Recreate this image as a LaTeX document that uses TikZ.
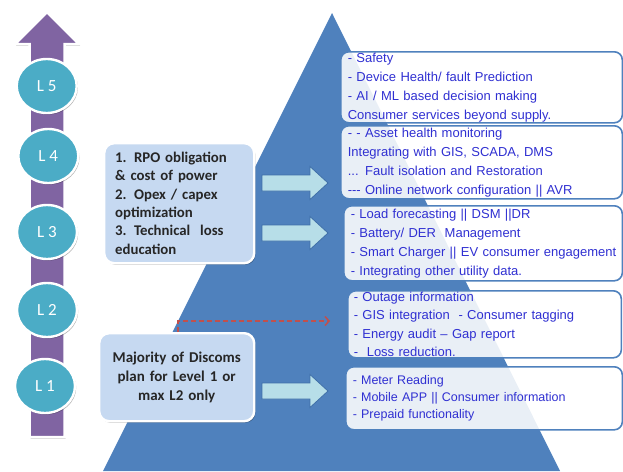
\documentclass[tikz,border=0pt]{standalone}
\usepackage{fontspec}
\setmainfont{Liberation Sans}
\newfontfamily\calibri{Carlito}
\usetikzlibrary{shapes.geometric,shadows,arrows.meta,calc}

\definecolor{pyramid}{HTML}{4F81BD}
\definecolor{ladder}{HTML}{8064A2}
\definecolor{levelteal}{HTML}{4BACC6}
\definecolor{notefill}{HTML}{C6D9F1}
\definecolor{arrowfill}{HTML}{B7DEE8}
\definecolor{arrowline}{HTML}{3F6FA8}
\definecolor{itemblue}{RGB}{48,48,210}
\definecolor{dashred}{HTML}{C0504D}

\tikzset{
  softshadow/.style={drop shadow={shadow xshift=1.2pt, shadow yshift=-1.5pt, opacity=0.3, fill=black}},
  level/.style={ellipse, minimum width=60pt, minimum height=54pt, inner sep=0pt,
    fill=levelteal, draw=white, line width=2.4pt, softshadow, text=white,
    font=\calibri\fontsize{17}{19}\selectfont},
  note/.style={rounded corners=10pt, fill=notefill, draw=white, line width=2.4pt,
    softshadow, text=black!85, font=\calibri\bfseries\fontsize{14.8}{18.4}\selectfont,
    inner ysep=0pt, anchor=north west},
  itembox/.style={rounded corners=8pt, fill=white, fill opacity=0.88, text opacity=1,
    draw=pyramid, line width=1.6pt, text=itemblue, align=left, inner xsep=7pt,
    inner ysep=0pt, anchor=north west, font=\fontsize{13}{19}\selectfont},
  fatarrow/.style={fill=arrowfill, draw=arrowline, line width=0.8pt},
  dashlink/.style={draw=dashred, line width=1.5pt, dash pattern=on 5pt off 3pt,
    -{Straight Barb[length=4pt,width=9pt]}},
  blockarrow/.pic={
    \draw[fatarrow] (0,-8) -- (48,-8) -- (48,-16.5) -- (66,0) -- (48,16.5) -- (48,8) -- (0,8) -- cycle;
  }
}

\begin{document}
\begin{tikzpicture}[x=1pt,y=-1pt]
\useasboundingbox (0,0) rectangle (623,471);
\clip (0,0) rectangle (623,471);

% pyramid behind the item boxes
\fill[pyramid] (332,13) -- (560,471) -- (103,471) -- cycle;

% maturity ladder
\draw[fill=ladder, draw=white, line width=2.5pt, softshadow, line join=miter]
  (29.5,437) -- (29.5,44) -- (15,44) -- (47,12) -- (79,44) -- (64.5,44) -- (64.5,437) -- cycle;

\node[level] (l5) at (46.7,86)  {L 5};
\node[level] (l4) at (48.3,156) {L 4};
\node[level] (l3) at (47,232)   {L 3};
\node[level] (l2) at (47,310)   {L 2};
\node[level] (l1) at (45,386)   {L 1};

% drivers and current planning
\node[note, minimum width=150pt, minimum height=120pt, text width=128pt, inner xsep=11pt, align=left]
  (drivers) at (103,142)
  {1. RPO obligation\\ \& cost of power\\ 2. Opex / capex\\ optimization\\ 3. Technical\ \ loss\\ education};

\node[note, minimum width=155pt, minimum height=88pt, text width=147pt, inner xsep=4pt, align=center,
      font=\calibri\bfseries\fontsize{15}{19}\selectfont]
  (maj) at (98,332)
  {Majority of Discoms\\ plan for Level 1 or\\ max L2 only};

% capability boxes
\node[itembox, minimum height=71pt, text width=267.5pt] (b5) at (340,51)
  {- Safety\\ - Device Health/ fault Prediction\\ - AI / ML based decision making\\ Consumer services beyond supply.};
\node[itembox, minimum height=73pt, text width=267.5pt] (b4) at (340,125)
  {- - Asset health monitoring\\ Integrating with GIS, SCADA, DMS\\ ... Fault isolation and Restoration\\ \mbox{-{}-{}- Online network configuration || AVR}};
\node[itembox, minimum height=75pt, text width=264.5pt] (b3) at (343,205)
  {- Load forecasting || DSM ||DR\\ - Battery/ DER\ \ Management\\ \mbox{- Smart Charger || EV consumer engagement}\\ - Integrating other utility data.};
\node[itembox, minimum height=67pt, text width=261.5pt, inner xsep=6pt,
      font=\fontsize{13}{18.6}\selectfont] (b2) at (347,290)
  {- Outage information\\ - GIS integration\ \ - Consumer tagging\\ - Energy audit – Gap report\\ -\ \ Loss reduction.};
\node[itembox, minimum height=63pt, text width=262.5pt, font=\fontsize{12.5}{17}\selectfont] (b1) at (345,366)
  {- Meter Reading\\ - Mobile APP || Consumer information\\ - Prepaid functionality};

% links from the notes to the capability boxes
\pic at (262,183) {blockarrow};
\pic at (262,233) {blockarrow};
\pic at (262,391) {blockarrow};

\coordinate (l2tip) at (330,321);
\draw[dashlink] ([xshift=1.5pt]maj.north) |- (l2tip);
\end{tikzpicture}
\end{document}
